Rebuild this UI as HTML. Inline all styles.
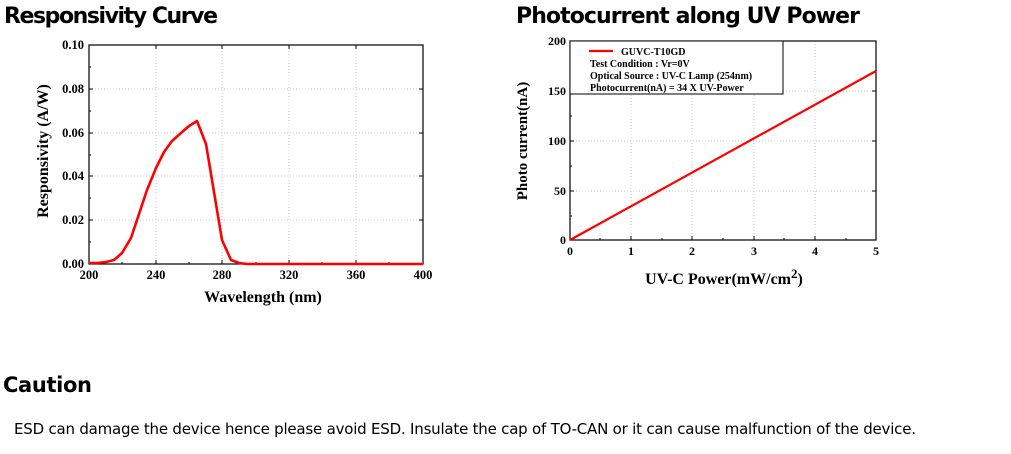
<!DOCTYPE html>
<html><head><style>body{margin:0;background:#fff}svg{display:block}</style></head><body>
<svg width="1011" height="454" xmlns="http://www.w3.org/2000/svg">
<g font-family="'DejaVu Sans',sans-serif" font-weight="bold" fill="#000">
<text x="4" y="23" font-size="22" textLength="214">Responsivity Curve</text>
<text x="516" y="23" font-size="22" textLength="344">Photocurrent along UV Power</text>
<text x="3" y="392" font-size="21" textLength="89">Caution</text>
</g>
<text x="14" y="434" font-family="'DejaVu Sans',sans-serif" font-size="15" textLength="902">ESD can damage the device hence please avoid ESD. Insulate the cap of TO-CAN or it can cause malfunction of the device.</text>

<!-- Left chart -->
<g stroke="#ccc" stroke-dasharray="1,2" stroke-width="1">
<line x1="89" x2="423" y1="89" y2="89"/><line x1="89" x2="423" y1="133" y2="133"/><line x1="89" x2="423" y1="176" y2="176"/><line x1="89" x2="423" y1="220" y2="220"/>
<line x1="156" x2="156" y1="45" y2="264"/><line x1="222" x2="222" y1="45" y2="264"/><line x1="289" x2="289" y1="45" y2="264"/><line x1="356" x2="356" y1="45" y2="264"/>
</g>
<rect x="89" y="45" width="334" height="219" fill="none" stroke="#000" stroke-width="1.2"/>
<g stroke="#000" stroke-width="1">
<path d="M89 89h4M89 133h4M89 176h4M89 220h4M89 67h2M89 111h2M89 155h2M89 198h2M89 242h2M423 89h-4M423 133h-4M423 176h-4M423 220h-4"/>
<path d="M156 264v-4M222 264v-4M289 264v-4M356 264v-4M122 264v-2M189 264v-2M256 264v-2M322 264v-2M389 264v-2M156 45v4M222 45v4M289 45v4M356 45v4"/>
</g>
<polyline fill="none" stroke="#f00" stroke-width="2.6" stroke-linejoin="round" points="89,263 97,263 106,262 114,260 122,253 131,238 139,214 147,190 156,168 164,152 172,141 181,133 189,126 197,121 206,144 214,192 222,240 231,260 239,263 247,264 256,264 423,264"/>
<g font-family="'Liberation Serif',serif" font-weight="bold" font-size="12.5" text-anchor="end">
<text x="84" y="49">0.10</text><text x="84" y="93">0.08</text><text x="84" y="137">0.06</text><text x="84" y="180">0.04</text><text x="84" y="224">0.02</text><text x="84" y="268">0.00</text>
</g>
<g font-family="'Liberation Serif',serif" font-weight="bold" font-size="12.5" text-anchor="middle">
<text x="89" y="279">200</text><text x="156" y="279">240</text><text x="222" y="279">280</text><text x="289" y="279">320</text><text x="356" y="279">360</text><text x="423" y="279">400</text>
</g>
<text x="263" y="302" font-family="'Liberation Serif',serif" font-weight="bold" font-size="16" text-anchor="middle">Wavelength (nm)</text>
<text transform="translate(48,151) rotate(-90)" font-family="'Liberation Serif',serif" font-weight="bold" font-size="16" text-anchor="middle">Responsivity (A/W)</text>

<!-- Right chart -->
<g stroke="#ccc" stroke-dasharray="1,2" stroke-width="1">
<line x1="570" x2="876" y1="91" y2="91"/><line x1="570" x2="876" y1="141" y2="141"/><line x1="570" x2="876" y1="191" y2="191"/>
<line x1="631" x2="631" y1="41" y2="240"/><line x1="692" x2="692" y1="41" y2="240"/><line x1="754" x2="754" y1="41" y2="240"/><line x1="815" x2="815" y1="41" y2="240"/>
</g>
<rect x="570" y="41" width="306" height="199" fill="none" stroke="#000" stroke-width="1.2"/>
<g stroke="#000" stroke-width="1">
<path d="M570 91h4M570 141h4M570 191h4M570 66h2M570 116h2M570 166h2M570 216h2M876 91h-4M876 141h-4M876 191h-4"/>
<path d="M631 240v-4M692 240v-4M754 240v-4M815 240v-4M600 240v-2M662 240v-2M723 240v-2M784 240v-2M846 240v-2"/>
</g>
<line x1="570" y1="240" x2="876" y2="71" stroke="#f00" stroke-width="2.2"/>
<rect x="570" y="41" width="213" height="53" fill="#fff" stroke="#000" stroke-width="1"/>
<line x1="589" y1="51" x2="613" y2="51" stroke="#f00" stroke-width="2.2"/>
<g font-family="'Liberation Serif',serif" font-weight="bold" font-size="10">
<text x="621" y="55">GUVC-T10GD</text>
<text x="590" y="67">Test Condition : Vr=0V</text>
<text x="590" y="79">Optical Source : UV-C Lamp (254nm)</text>
<text x="590" y="91">Photocurrent(nA) = 34 X UV-Power</text>
</g>
<g font-family="'Liberation Serif',serif" font-weight="bold" font-size="12" text-anchor="end">
<text x="566" y="45">200</text><text x="566" y="95">150</text><text x="566" y="145">100</text><text x="566" y="195">50</text><text x="566" y="244">0</text>
</g>
<g font-family="'Liberation Serif',serif" font-weight="bold" font-size="12" text-anchor="middle">
<text x="570" y="255">0</text><text x="631" y="255">1</text><text x="692" y="255">2</text><text x="754" y="255">3</text><text x="815" y="255">4</text><text x="876" y="255">5</text>
</g>
<text x="724" y="284" font-family="'Liberation Serif',serif" font-weight="bold" font-size="16" text-anchor="middle">UV-C Power(mW/cm<tspan dy="-6" font-size="13">2</tspan><tspan dy="6">)</tspan></text>
<text transform="translate(527,141) rotate(-90)" font-family="'Liberation Serif',serif" font-weight="bold" font-size="15" text-anchor="middle">Photo current(nA)</text>
</svg>
</body></html>
